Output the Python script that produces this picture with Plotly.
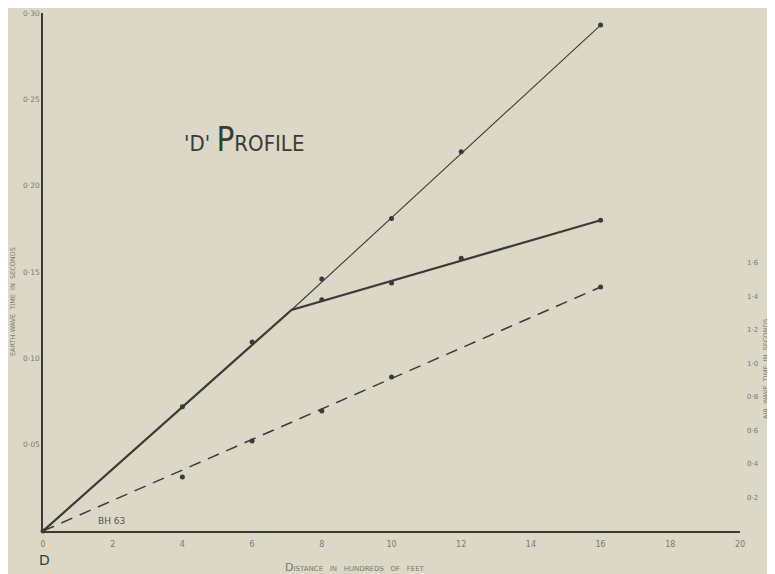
import plotly.graph_objects as go

# ---- tick values / labels ----
distance_ticks = [0, 2, 4, 6, 8, 10, 12, 14, 16, 18, 20]
distance_tick_labels = ["0", "2", "4", "6", "8", "10", "12", "14", "16", "18", "20"]
earth_ticks = [0.05, 0.10, 0.15, 0.20, 0.25, 0.30]
earth_tick_labels = ["0·05", "0·10", "0·15", "0·20", "0·25", "0·30"]
air_ticks = [0.2, 0.4, 0.6, 0.8, 1.0, 1.2, 1.4, 1.6]
air_tick_labels = ["0·2", "0·4", "0·6", "0·8", "1·0", "1·2", "1·4", "1·6"]

# ---- data (distance in hundreds of feet, time in seconds) ----
direct_x = [0, 4, 6]
direct_t = [0, 0.072, 0.1095]
break_x = 7.13
break_t = 0.128
upper_x = [8, 10, 12, 16]
upper_t = [0.146, 0.181, 0.2196, 0.293]
lower_x = [8, 10, 12, 16]
lower_t = [0.134, 0.1437, 0.158, 0.180]
air_x = [4, 6, 8, 10, 16]
air_t = [0.322, 0.537, 0.716, 0.919, 1.457]

INK = "#3b3a36"
BG = "#dcd8c7"
LABEL = "#7a786f"

W, H = 775, 574
OFF = 8  # page body margin
# desired plot-area edges in page pixels
PL, PR, PT, PB = 43, 740, 13, 531
L, T = PL - OFF, PT - OFF
R, B = W - (PR - OFF), H - (PB - OFF)
PW, PH = PR - PL, PB - PT


def px(xp):
    return (xp - PL) / PW


def py(yp):
    return (PB - yp) / PH


fig = go.Figure()

fig.add_trace(go.Scatter(
    x=[0, break_x, lower_x[-1]], y=[0, break_t, lower_t[-1]],
    mode="lines", line=dict(color=INK, width=2.2), showlegend=False, hoverinfo="skip"))
fig.add_trace(go.Scatter(
    x=[break_x, upper_x[-1]], y=[break_t, upper_t[-1]],
    mode="lines", line=dict(color=INK, width=1.1), showlegend=False, hoverinfo="skip"))
fig.add_trace(go.Scatter(
    x=direct_x + upper_x + lower_x, y=direct_t + upper_t + lower_t,
    mode="markers", marker=dict(color=INK, size=5, symbol="circle"),
    showlegend=False, cliponaxis=False))
fig.add_trace(go.Scatter(
    x=[0, air_x[-1]], y=[0, air_t[-1]], yaxis="y2",
    mode="lines", line=dict(color=INK, width=1.5, dash="12px,8px"),
    showlegend=False, hoverinfo="skip"))
fig.add_trace(go.Scatter(
    x=air_x, y=air_t, yaxis="y2",
    mode="markers", marker=dict(color=INK, size=5, symbol="circle"),
    showlegend=False, cliponaxis=False))


def ann(text, xp, yp, size, color, angle=0, family=None, xanchor="center"):
    f = dict(size=size, color=color)
    if family:
        f["family"] = family
    return dict(text=text, x=px(xp), y=py(yp), xref="paper", yref="paper",
                showarrow=False, xanchor=xanchor, yanchor="middle",
                textangle=angle, font=f)


fig.update_layout(
    width=W, height=H,
    margin=dict(l=L, r=R, t=T, b=B, pad=0),
    paper_bgcolor=BG, plot_bgcolor=BG,
    font=dict(family="DejaVu Sans", color=LABEL),
    xaxis=dict(range=[0, 20], tickvals=distance_ticks, ticktext=distance_tick_labels,
               showline=True, linecolor=INK, linewidth=1.5, ticks="",
               showgrid=False, zeroline=False, ticklabelstandoff=5, automargin=False,
               tickfont=dict(size=8, color=LABEL)),
    yaxis=dict(range=[0, 0.30], tickvals=earth_ticks, ticktext=earth_tick_labels,
               showline=True, linecolor=INK, linewidth=1.5, ticks="",
               showgrid=False, zeroline=False, automargin=False,
               tickfont=dict(size=7.5, color=LABEL)),
    yaxis2=dict(range=[0, 3.093], overlaying="y", side="right",
                tickvals=air_ticks, ticktext=air_tick_labels, automargin=False,
                showline=False, ticks="", showgrid=False, zeroline=False,
                ticklabelstandoff=6, tickfont=dict(size=7, color=LABEL)),
    annotations=[
        ann("'D'&nbsp;<span style='font-size:33px'>P</span>ROFILE", 182, 140, 22, INK,
            family="DejaVu Sans Condensed, Liberation Sans Narrow, Liberation Sans",
            xanchor="left"),
        ann("BH 63", 111, 521, 9, "#55534c"),
        ann("D", 44, 560, 14, INK),
        ann("<span style='font-size:11px'>D</span>ISTANCE&nbsp;&nbsp;&nbsp;IN&nbsp;&nbsp;&nbsp;"
            "HUNDREDS&nbsp;&nbsp;&nbsp;OF&nbsp;&nbsp;&nbsp;FEET", 355, 567, 7, LABEL),
        ann("EARTH-WAVE&nbsp;&nbsp;TIME&nbsp;&nbsp;IN&nbsp;&nbsp;SECONDS", 13, 302, 6.5, LABEL, angle=-90),
        ann("AIR&nbsp;&nbsp;WAVE&nbsp;&nbsp;TIME&nbsp;&nbsp;IN&nbsp;&nbsp;SECONDS", 766, 369, 6.5, LABEL, angle=-90),
    ],
)

fig.write_html("out.html")
